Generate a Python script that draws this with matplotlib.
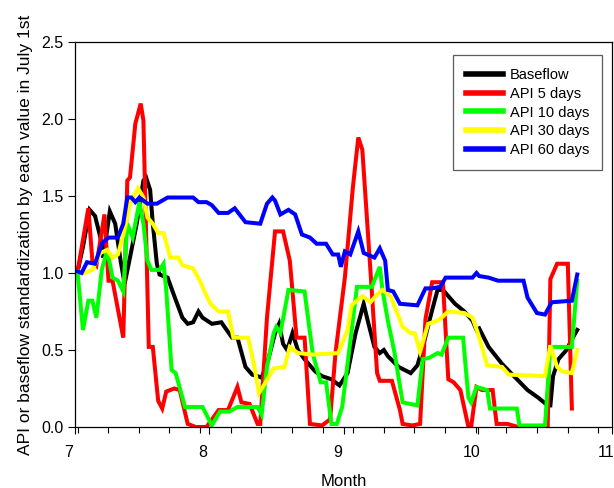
import numpy as np
import matplotlib
matplotlib.use("Agg")
import matplotlib.pyplot as plt
import matplotlib.transforms as mtransforms

plt.rcParams["font.family"] = ["Liberation Sans", "DejaVu Sans"]

# Baseflow
base_x = [7.02, 7.06, 7.11, 7.15, 7.19, 7.21, 7.26, 7.30, 7.34, 7.37, 7.41, 7.46, 7.51, 7.53, 7.56, 7.58,
          7.61, 7.63, 7.69, 7.74, 7.80, 7.84, 7.88, 7.92, 7.95, 8.02, 8.09, 8.17, 8.21, 8.27, 8.32, 8.36,
          8.39, 8.44, 8.49, 8.52, 8.55, 8.58, 8.62, 8.66, 8.71, 8.79, 8.84, 8.91, 8.97, 9.03, 9.09, 9.15,
          9.18, 9.23, 9.27, 9.30, 9.33, 9.41, 9.50, 9.55, 9.59, 9.66, 9.70, 9.74, 9.83, 9.90, 9.96, 9.99,
          10.01, 10.08, 10.18, 10.28, 10.37, 10.45, 10.52, 10.54, 10.56, 10.60, 10.66, 10.70, 10.74]
base_y = [1.01, 1.17, 1.41, 1.37, 1.23, 1.10, 1.40, 1.32, 1.08, 0.93, 1.10, 1.32, 1.60, 1.62, 1.54, 1.32,
          1.06, 0.99, 0.97, 0.85, 0.71, 0.67, 0.68, 0.75, 0.71, 0.67, 0.68, 0.58, 0.58, 0.39, 0.34, 0.33,
          0.32, 0.44, 0.61, 0.67, 0.54, 0.50, 0.61, 0.50, 0.44, 0.36, 0.33, 0.31, 0.27, 0.35, 0.61, 0.80,
          0.69, 0.52, 0.48, 0.50, 0.46, 0.39, 0.35, 0.40, 0.52, 0.76, 0.89, 0.89, 0.80, 0.75, 0.69, 0.63,
          0.64, 0.52, 0.41, 0.32, 0.24, 0.19, 0.14, 0.14, 0.33, 0.44, 0.50, 0.57, 0.63]

# API 5 days
api5_x = [7.02, 7.10, 7.13, 7.16, 7.22, 7.25, 7.28, 7.36, 7.39, 7.41, 7.45, 7.49, 7.51, 7.55, 7.58, 7.62,
          7.65, 7.68, 7.74, 7.78, 7.84, 7.90, 7.98, 8.07, 8.14, 8.21, 8.24, 8.30, 8.36, 8.38, 8.43, 8.49,
          8.55, 8.60, 8.65, 8.71, 8.75, 8.84, 8.90, 8.94, 9.01, 9.07, 9.11, 9.14, 9.20, 9.25, 9.27, 9.36,
          9.42, 9.44, 9.51, 9.57, 9.61, 9.66, 9.74, 9.78, 9.82, 9.87, 9.93, 9.95, 9.99, 10.03, 10.11, 10.14,
          10.22, 10.30, 10.52, 10.54, 10.59, 10.67, 10.70]
api5_y = [1.01, 1.42, 1.08, 1.05, 1.38, 0.95, 0.95, 0.58, 1.60, 1.62, 1.97, 2.10, 1.99, 0.52, 0.52, 0.17,
          0.12, 0.23, 0.25, 0.24, 0.02, 0.0, 0.0, 0.11, 0.11, 0.26, 0.16, 0.15, 0.02, 0.02, 0.71, 1.27,
          1.27, 1.08, 0.58, 0.58, 0.02, 0.01, 0.05, 0.48, 0.97, 1.56, 1.88, 1.80, 1.02, 0.35, 0.30, 0.30,
          0.11, 0.02, 0.01, 0.02, 0.70, 0.94, 0.94, 0.31, 0.29, 0.24, 0.0, 0.0, 0.26, 0.24, 0.24, 0.02,
          0.02, 0.0, 0.0, 0.96, 1.06, 1.06, 0.12]

# API 10 days
api10_x = [7.02, 7.06, 7.10, 7.13, 7.16, 7.20, 7.24, 7.28, 7.32, 7.36, 7.39, 7.43, 7.48, 7.51, 7.54, 7.57,
           7.63, 7.66, 7.68, 7.72, 7.75, 7.82, 7.95, 8.02, 8.08, 8.15, 8.21, 8.36, 8.39, 8.43, 8.48, 8.50,
           8.53, 8.59, 8.71, 8.77, 8.83, 8.87, 8.91, 8.95, 8.99, 9.04, 9.10, 9.21, 9.27, 9.29, 9.33, 9.38,
           9.44, 9.55, 9.59, 9.64, 9.70, 9.73, 9.78, 9.89, 9.93, 9.95, 9.99, 10.07, 10.09, 10.29, 10.31,
           10.50, 10.54, 10.70, 10.74]
api10_y = [1.00, 0.63, 0.82, 0.82, 0.71, 1.02, 1.15, 0.97, 0.95, 0.88, 1.32, 1.23, 1.46, 1.32, 1.08, 1.02,
           1.02, 1.06, 0.89, 0.37, 0.35, 0.13, 0.13, 0.01, 0.10, 0.10, 0.13, 0.13, 0.08, 0.39, 0.61, 0.65,
           0.61, 0.89, 0.88, 0.48, 0.29, 0.29, 0.02, 0.02, 0.13, 0.48, 0.91, 0.91, 1.04, 0.89, 0.69, 0.48,
           0.16, 0.14, 0.44, 0.45, 0.48, 0.47, 0.58, 0.58, 0.19, 0.16, 0.26, 0.24, 0.12, 0.12, 0.01,
           0.01, 0.52, 0.52, 0.95]

# API 30 days
api30_x = [7.02, 7.07, 7.13, 7.19, 7.24, 7.28, 7.32, 7.37, 7.41, 7.47, 7.51, 7.54, 7.58, 7.62, 7.66, 7.71,
           7.77, 7.80, 7.88, 7.93, 7.97, 8.01, 8.07, 8.14, 8.18, 8.29, 8.33, 8.37, 8.42, 8.48, 8.56, 8.60,
           8.66, 8.77, 8.96, 9.03, 9.06, 9.14, 9.20, 9.25, 9.29, 9.35, 9.44, 9.50, 9.53, 9.57, 9.63, 9.70,
           9.73, 9.78, 9.90, 9.96, 10.00, 10.07, 10.18, 10.23, 10.50, 10.54, 10.59, 10.63, 10.70, 10.74]
api30_y = [1.01, 1.00, 1.02, 1.13, 1.15, 1.10, 1.12, 1.28, 1.45, 1.55, 1.49, 1.36, 1.32, 1.26, 1.26, 1.10,
           1.10, 1.05, 1.03, 0.95, 0.87, 0.80, 0.75, 0.75, 0.58, 0.58, 0.42, 0.22, 0.29, 0.38, 0.39, 0.52,
           0.48, 0.47, 0.48, 0.63, 0.79, 0.85, 0.81, 0.86, 0.89, 0.85, 0.65, 0.61, 0.61, 0.49, 0.67, 0.69,
           0.71, 0.75, 0.74, 0.71, 0.61, 0.40, 0.39, 0.34, 0.33, 0.53, 0.39, 0.36, 0.35, 0.50]

# API 60 days
api60_x = [7.02, 7.05, 7.09, 7.15, 7.20, 7.25, 7.32, 7.36, 7.39, 7.42, 7.45, 7.48, 7.54, 7.61, 7.69, 7.88,
           7.92, 7.98, 8.02, 8.07, 8.14, 8.19, 8.27, 8.38, 8.43, 8.47, 8.49, 8.53, 8.59, 8.64, 8.69, 8.75,
           8.80, 8.87, 8.92, 8.96, 8.98, 9.01, 9.05, 9.11, 9.15, 9.23, 9.27, 9.31, 9.33, 9.37, 9.42, 9.55,
           9.61, 9.66, 9.72, 9.76, 9.96, 9.99, 10.01, 10.08, 10.15, 10.34, 10.37, 10.44, 10.50, 10.55,
           10.70, 10.74]
api60_y = [1.01, 1.00, 1.07, 1.06, 1.19, 1.23, 1.23, 1.32, 1.49, 1.49, 1.46, 1.49, 1.45, 1.45, 1.49, 1.49,
           1.46, 1.46, 1.44, 1.39, 1.39, 1.42, 1.33, 1.32, 1.45, 1.49, 1.47, 1.38, 1.41, 1.38, 1.25, 1.23,
           1.19, 1.19, 1.12, 1.12, 1.04, 1.14, 1.12, 1.27, 1.13, 1.10, 1.16, 1.08, 0.89, 0.88, 0.80, 0.79,
           0.90, 0.90, 0.91, 0.97, 0.97, 1.00, 0.98, 0.97, 0.95, 0.95, 0.84, 0.74, 0.73, 0.81,
           0.82, 0.99]

series = [
    ("Baseflow", base_x, base_y, "black"),
    ("API 5 days", api5_x, api5_y, "#ff0000"),
    ("API 10 days", api10_x, api10_y, "#00ff00"),
    ("API 30 days", api30_x, api30_y, "#ffff00"),
    ("API 60 days", api60_x, api60_y, "#0000ff"),
]

fig = plt.figure(figsize=(6.14, 4.88), dpi=100)
ax = fig.add_axes([0.122, 0.125, 0.875, 0.789])

for name, xs, ys, col in series:
    ax.plot(xs, ys, color=col, lw=2.9, label=name, solid_joinstyle="miter")

ax.set_xlim(7, 11)
ax.set_ylim(0, 2.5)
ax.set_xticks([7, 8, 9, 10, 11])
ax.set_xticks(np.arange(7.02, 11, 0.228), minor=True)
ax.set_yticks([0, 0.5, 1.0, 1.5, 2.0, 2.5])
ax.set_yticklabels(["0.0", "0.5", "1.0", "1.5", "2.0", "2.5"])
ax.tick_params(axis="both", which="major", direction="out", length=5, width=0.8, labelsize=11.5)
ax.tick_params(axis="x", which="major", pad=8)
ax.tick_params(axis="y", which="major", pad=3)
ax.tick_params(axis="x", which="minor", direction="out", length=4, width=0.8)

# month labels sit a little left of their ticks, as in the original
shift = mtransforms.ScaledTranslation(-6 / 100, 0, fig.dpi_scale_trans)
for lbl in ax.get_xticklabels():
    lbl.set_transform(lbl.get_transform() + shift)

for sp in ax.spines.values():
    sp.set_linewidth(0.9)

ax.set_xlabel("Month", fontsize=12, labelpad=10)
ax.set_ylabel("API or baseflow standardization by each value in July 1st", fontsize=12.5, labelpad=6)

leg = ax.legend(loc="upper right", bbox_to_anchor=(0.982, 0.966), borderaxespad=0,
                fontsize=10.5, frameon=True, fancybox=False, handlelength=2.5, handletextpad=0.5,
                labelspacing=0.32, borderpad=0.9)
leg.get_frame().set_edgecolor("#333333")
leg.get_frame().set_linewidth(0.9)
for line in leg.get_lines():
    line.set_linewidth(4)

fig.savefig("out.png", dpi=100)
